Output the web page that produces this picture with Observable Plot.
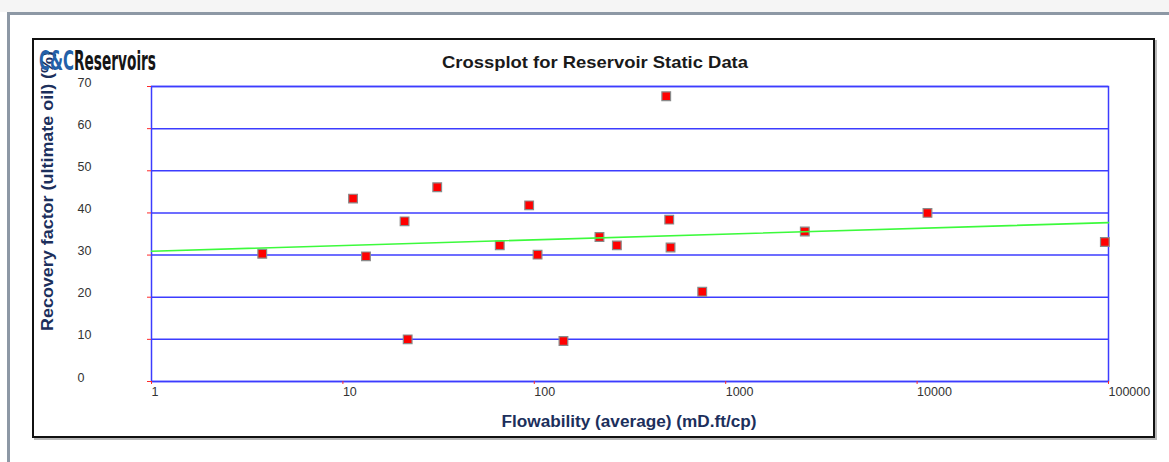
<!DOCTYPE html>
<html><head><meta charset="utf-8">
<script src="https://cdn.jsdelivr.net/npm/d3@7"></script>
<script src="https://cdn.jsdelivr.net/npm/@observablehq/plot@0.6"></script>
<style>html,body{margin:0;padding:0;background:#fff;overflow:hidden}svg{display:block}</style>
</head><body><div id="chart"></div>
<script>
// Data
const flowability = [3.79, 11.3, 13.2, 21.0, 21.8, 31.1, 66, 94, 104, 142, 219, 270, 489, 507, 515, 754, 2590, 11330, 95700];
const recovery    = [30.3, 43.4, 29.7, 38.0, 10.0, 46.1, 32.3, 41.8, 30.1, 9.6, 34.3, 32.3, 67.7, 38.4, 31.8, 21.3, 35.6, 40.0, 33.1];
const trendFlow = [1, 100000];
const trendRecovery = [30.9, 37.7];
const yTicks = [0, 10, 20, 30, 40, 50, 60, 70];
const xTicks = [1, 10, 100, 1000, 10000, 100000];
const xTickLabels = ["1", "10", "100", "1000", "10000", "100000"];
const chartTitle = "Crossplot for Reservoir Static Data";
const xTitle = "Flowability (average) (mD.ft/cp)";
const yTitle = "Recovery factor (ultimate oil) (%)";
const logoA = "C&C";
const logoB = "Reservoirs";

const points = flowability.map((f, i) => ({f, r: recovery[i]}));
const trend = trendFlow.map((f, i) => ({f, r: trendRecovery[i]}));

const blue = "#3c3cff";
const red = "#ff2a2a";
const chart = Plot.plot({
  width: 1169, height: 462,
  marginLeft: 151, marginRight: 61, marginTop: 86, marginBottom: 81,
  style: {background: "transparent", fontFamily: "'Liberation Sans', Arial, sans-serif"},
  x: {type: "log", domain: [1, 100000], label: null},
  y: {domain: [0, 70], label: null},
  marks: [
    Plot.gridY(yTicks, {stroke: blue, strokeOpacity: 1, strokeWidth: 1.5}),
    Plot.frame({stroke: blue, strokeWidth: 1.5}),
    Plot.axisY(yTicks, {tickSize: 4, stroke: red, strokeWidth: 1, tickFormat: () => "", label: null}),
    Plot.axisY(yTicks, {tickSize: 0, tickPadding: 74, textAnchor: "start", dy: -4, fontSize: 12.5, fill: "#333", label: null}),
    Plot.axisX(xTicks, {tickSize: 3, stroke: red, strokeWidth: 1, tickFormat: () => "", label: null}),
    Plot.axisX(xTicks, {tickSize: 0, tickPadding: 6, textAnchor: "start", dx: 0, fontSize: 12.5, fill: "#333", label: null,
      tickFormat: d => xTickLabels[xTicks.indexOf(d)]}),
    Plot.dot(points, {x: "f", y: "r", symbol: "square", r: 4.9, fill: "#ff0000", stroke: "#8a8a8a", strokeWidth: 1.2}),
    Plot.line(trend, {x: "f", y: "r", stroke: "#3cfa3c", strokeWidth: 1.6})
  ]
});
document.getElementById("chart").appendChild(chart);

const svg = d3.select(chart);
const bg = svg.insert("g", ":first-child");
bg.append("rect").attr("x", 0).attr("y", 0).attr("width", 1169).attr("height", 12).attr("fill", "#f5f5f5");
bg.append("rect").attr("x", 7).attr("y", 12).attr("width", 1162).attr("height", 3).attr("fill", "#8d98a5");
bg.append("rect").attr("x", 7).attr("y", 12).attr("width", 3).attr("height", 450).attr("fill", "#8d98a5");
bg.append("rect").attr("x", 35).attr("y", 41).attr("width", 1121).attr("height", 398)
  .attr("fill", "none").attr("stroke", "#b8b8b8").attr("stroke-width", 2);
bg.append("rect").attr("x", 33).attr("y", 39).attr("width", 1121).attr("height", 398)
  .attr("fill", "#fff").attr("stroke", "#111").attr("stroke-width", 2);

const fg = svg.append("g").attr("font-family", "'Liberation Sans', Arial, sans-serif");
fg.append("text").attr("x", 595).attr("y", 68).attr("text-anchor", "middle")
  .attr("font-size", 17).attr("font-weight", "bold").attr("fill", "#1a1a1a")
  .attr("textLength", 306).attr("lengthAdjust", "spacingAndGlyphs").text(chartTitle);
fg.append("text").attr("x", 629).attr("y", 427).attr("text-anchor", "middle")
  .attr("font-size", 16).attr("font-weight", "bold").attr("fill", "#1c2f5c")
  .attr("textLength", 255).attr("lengthAdjust", "spacingAndGlyphs").text(xTitle);
fg.append("text").attr("transform", "translate(53,331) rotate(-90)").attr("text-anchor", "start")
  .attr("font-size", 16).attr("font-weight", "bold").attr("fill", "#1c2f5c")
  .attr("textLength", 280).attr("lengthAdjust", "spacingAndGlyphs").text(yTitle);
const logo = svg.append("g").attr("font-family", "'Liberation Sans Narrow', 'DejaVu Sans Condensed', sans-serif")
  .attr("font-weight", "bold").attr("font-size", 27).attr("text-anchor", "start");
logo.append("text").attr("x", 39).attr("y", 70).attr("fill", "#2360a8").attr("text-anchor", "start")
  .attr("textLength", 35).attr("lengthAdjust", "spacingAndGlyphs").text(logoA);
logo.append("text").attr("x", 74).attr("y", 70).attr("fill", "#151515").attr("text-anchor", "start")
  .attr("textLength", 82).attr("lengthAdjust", "spacingAndGlyphs").text(logoB);
</script>
</body></html>
